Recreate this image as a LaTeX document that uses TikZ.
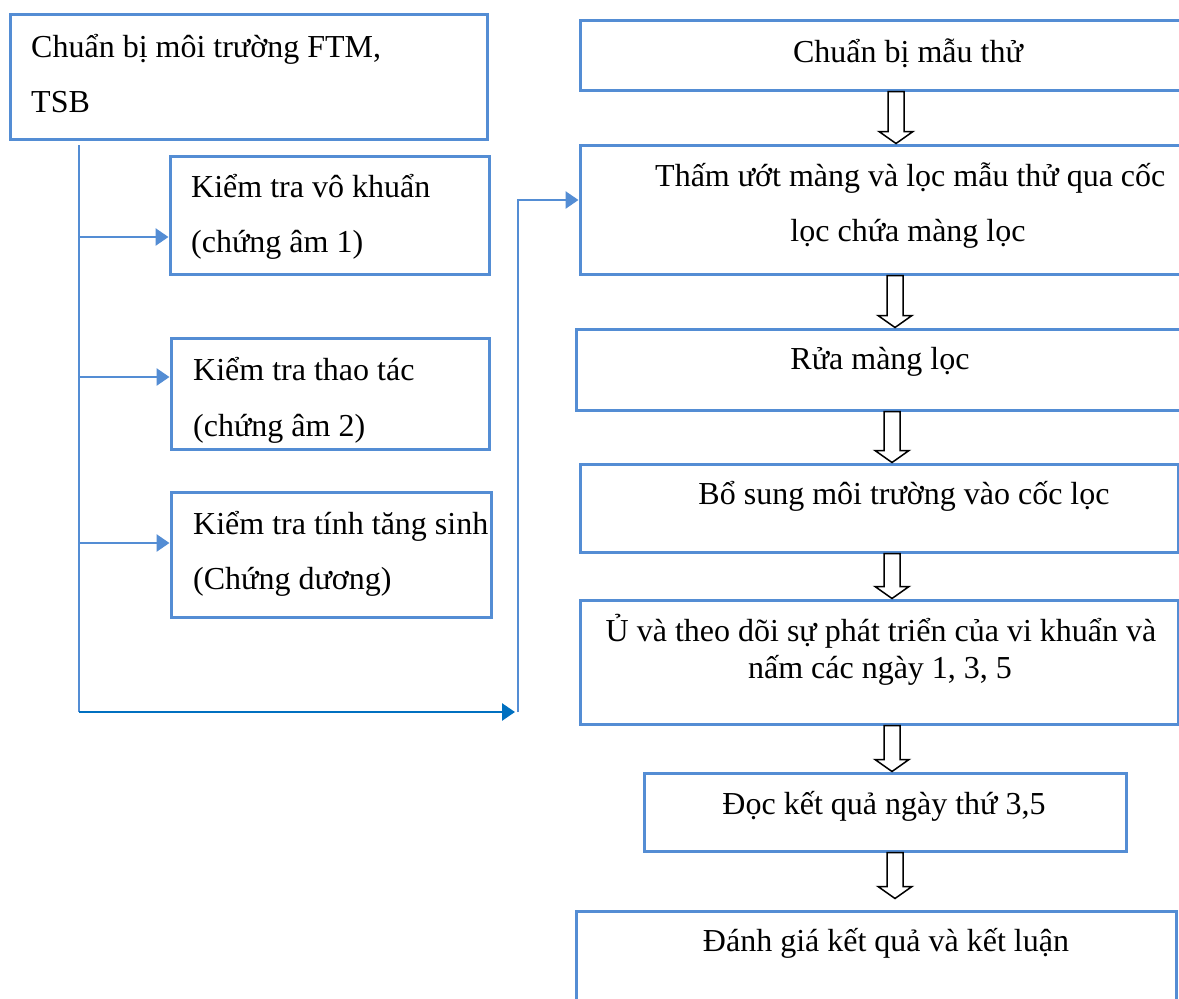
\documentclass[tikz,border=0pt]{standalone}
\usepackage{fontspec}
\setmainfont{Liberation Serif}
\usetikzlibrary{arrows.meta,fit,calc}
\definecolor{boxblue}{RGB}{84,141,212}
\definecolor{darkblue}{RGB}{0,112,192}
\newcommand\blockdown[4]{%
  \draw[barrow] let \p1=(#2.south), \p2=(#3.north) in
    (#1-8,\y1) -- (#1-8,\y2+#4+12pt) -- (#1-17,\y2+#4+12pt) -- (#1,\y2+#4)
    -- (#1+17,\y2+#4+12pt) -- (#1+8,\y2+#4+12pt) -- (#1+8,\y1) -- cycle;}
\begin{document}
\begin{tikzpicture}[x=1pt,y=-1pt,
  box/.style={draw=boxblue, line width=3pt, inner sep=0pt},
  txt/.style={inner sep=0pt, font=\fontsize{32}{38}\selectfont},
  conn/.style={draw=boxblue, line width=2.7pt},
  tip/.style={-{Triangle[length=13pt,width=17pt]}},
  barrow/.style={draw=black, fill=white, line width=1.5pt, line join=miter}]
\clip (0,0) rectangle (1179,999);
\fill[white] (0,0) rectangle (1179,999);
% boxes
\node[box, fit={(10,14) (487,139)}] (prep) {};
\node[box, fit={(170,156) (489,274)}] (ster) {};
\node[box, fit={(171,338) (489,449)}] (oper) {};
\node[box, fit={(171,492) (491,617)}] (grow) {};
\node[box, fit={(580,20) (1195,90)}] (samp) {};
\node[box, fit={(580,145) (1195,274)}] (wet) {};
\node[box, fit={(576,329) (1195,410)}] (wash) {};
\node[box, fit={(580,464) (1178,552)}] (add) {};
\node[box, fit={(580,600) (1178,724)}] (inc) {};
\node[box, fit={(644,773) (1126,851)}] (read) {};
\node[box, fit={(576,911) (1176,1010)}] (eval) {};
% texts
\node[txt, anchor=base west] (prep-l1) at (31,57) {Chuẩn bị môi trường FTM,};
\node[txt, anchor=base west] (prep-l2) at (31,112) {TSB};
\node[txt, anchor=base west] (ster-l1) at (191,197) {Kiểm tra vô khuẩn};
\node[txt, anchor=base west] (ster-l2) at (191,252) {(chứng âm 1)};
\node[txt, anchor=base west] (oper-l1) at (193,380) {Kiểm tra thao tác};
\node[txt, anchor=base west] (oper-l2) at (193,436) {(chứng âm 2)};
\node[txt, anchor=base west] (grow-l1) at (193,534) {Kiểm tra tính tăng sinh};
\node[txt, anchor=base west] (grow-l2) at (193,589) {(Chứng dương)};
\node[txt, anchor=base] (samp-l1) at (908,62) {Chuẩn bị mẫu thử};
\node[txt, anchor=base west] (wet-l1) at (655,186) {Thấm ướt màng và lọc mẫu thử qua cốc};
\node[txt, anchor=base] (wet-l2) at (908,241) {lọc chứa màng lọc};
\node[txt, anchor=base] (wash-l1) at (880,369) {Rửa màng lọc};
\node[txt, anchor=base] (add-l1) at (904,504) {Bổ sung môi trường vào cốc lọc};
\node[txt, anchor=base] (inc-l1) at (881,641) {Ủ và theo dõi sự phát triển của vi khuẩn và};
\node[txt, anchor=base] (inc-l2) at (880,678) {nấm các ngày 1, 3, 5};
\node[txt, anchor=base] (read-l1) at (884,814) {Đọc kết quả ngày thứ 3,5};
\node[txt, anchor=base] (eval-l1) at (886,951) {Đánh giá kết quả và kết luận};
% left connectors
\coordinate (trunktop) at (79,145);
\coordinate (trunkbot) at (79,712);
\coordinate (joinpt) at (515,712);
\coordinate (risebot) at (518,712);
\coordinate (risetop) at (518,200);
\draw[conn] (trunktop) -- (trunkbot);
\draw[conn, tip] (trunktop |- 0,237) -- (ster.west |- 0,237);
\draw[conn, tip] (trunktop |- 0,377) -- (oper.west |- 0,377);
\draw[conn, tip] (trunktop |- 0,543) -- (grow.west |- 0,543);
\draw[conn, draw=darkblue, tip] (trunkbot) -- (joinpt);
\draw[conn, tip] (risebot) -- (risetop) -- (wet.west |- risetop);
% block arrows
\blockdown{896}{samp}{wet}{0pt}
\blockdown{895}{wet}{wash}{0pt}
\blockdown{892}{wash}{add}{0pt}
\blockdown{892}{add}{inc}{0pt}
\blockdown{892}{inc}{read}{0pt}
\blockdown{895}{read}{eval}{11pt}
\end{tikzpicture}
\end{document}
